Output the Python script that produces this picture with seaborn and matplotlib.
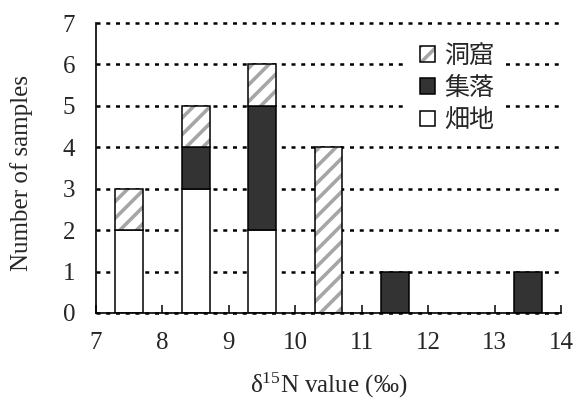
import numpy as np
import pandas as pd
import matplotlib
matplotlib.use("Agg")
import matplotlib.pyplot as plt
from matplotlib.patches import Patch, Rectangle
import seaborn as sns

# δ15N bin centres (‰) and number of samples per site type in each bin
bin_centers = [7.5, 8.5, 9.5, 10.5, 11.5, 13.5]
cave_counts = [1, 1, 1, 4, 0, 0]       # 洞窟
village_counts = [0, 1, 3, 0, 1, 1]    # 集落
field_counts = [2, 3, 2, 0, 0, 0]      # 畑地
site_names = ["洞窟", "集落", "畑地"]
x_ticks = [7, 8, 9, 10, 11, 12, 13, 14]
y_ticks = [0, 1, 2, 3, 4, 5, 6, 7]

sns.set_style("white")
plt.rcParams["font.family"] = ["Liberation Serif", "Noto Sans CJK JP"]
plt.rcParams["mathtext.fontset"] = "custom"
plt.rcParams["mathtext.rm"] = "Liberation Serif"
plt.rcParams["mathtext.it"] = "Liberation Serif"
plt.rcParams["mathtext.bf"] = "Liberation Serif"
plt.rcParams["hatch.linewidth"] = 2.6

rows = []
for name, counts in zip(site_names, [cave_counts, village_counts, field_counts]):
    for c, n in zip(bin_centers, counts):
        if n > 0:
            rows.append({"d15N": c, "count": n, "site": name})
df = pd.DataFrame(rows)

# temporary identity colours, restyled after drawing
id_palette = {"洞窟": "#aaaaaa", "集落": "#333333", "畑地": "#ffffff"}
hatch_gray = "#a6a6a6"
fill_dark = "#333333"

fig = plt.figure(figsize=(5.76, 4.05), dpi=100)
ax = fig.add_axes([0.1667, 0.2272, 0.8073, 0.7160])

sns.histplot(data=df, x="d15N", weights="count", hue="site", hue_order=site_names,
             multiple="stack", binwidth=1, binrange=(7, 14), shrink=0.42,
             palette=id_palette, edgecolor="black", linewidth=1.1, alpha=1,
             legend=False, ax=ax, zorder=3)

for cont in ax.containers:
    for p in cont.patches:
        fc = matplotlib.colors.to_hex(p.get_facecolor())
        if p.get_height() <= 0:
            p.set_visible(False)
            continue
        if fc == "#aaaaaa":
            p.set_facecolor("white")
            p.set_edgecolor(hatch_gray)
            p.set_hatch("//")
            p.set_linewidth(0)
            ax.add_patch(Rectangle((p.get_x(), p.get_y()), p.get_width(), p.get_height(),
                                   fill=False, edgecolor="black", linewidth=1.1, zorder=4))
        elif fc == "#333333":
            p.set_facecolor(fill_dark)
        else:
            p.set_facecolor("white")

ax.set_xlim(7, 14)
ax.set_ylim(0, 7)
ax.set_xticks(x_ticks)
ax.set_yticks(y_ticks)
ax.set_xticklabels([str(t) for t in x_ticks])
ax.set_yticklabels([str(t) for t in y_ticks])
ax.yaxis.grid(True, linestyle=(0, (1.6, 2.3)), color="black", linewidth=1.8)
ax.xaxis.grid(False)
ax.set_axisbelow(True)
for gl in ax.get_ygridlines():
    gl.set_clip_on(False)

for s in ["top", "right"]:
    ax.spines[s].set_visible(False)
for s in ["left", "bottom"]:
    ax.spines[s].set_color("black")
    ax.spines[s].set_linewidth(1.2)
    ax.spines[s].set_zorder(4)

ax.tick_params(axis="x", direction="in", length=6, width=1.1, color="black",
               labelsize=18, pad=14, bottom=True)
ax.tick_params(axis="y", length=0, labelsize=18, pad=15)

ax.set_xlabel(r"δ$^{15}$N value (‰)", fontsize=18, labelpad=12)
ax.set_ylabel("Number of samples", fontsize=18)
ax.yaxis.set_label_coords(-0.135, 0.483)

cave_handle = (
    Patch(facecolor="white", edgecolor=hatch_gray, hatch="//", linewidth=0),
    Patch(facecolor="none", edgecolor="black", linewidth=1.1),
)
handles = [
    cave_handle,
    Patch(facecolor=fill_dark, edgecolor="black", linewidth=1.1),
    Patch(facecolor="white", edgecolor="black", linewidth=1.1),
]
leg = ax.legend(handles, site_names, loc="upper left", bbox_to_anchor=(0.67, 0.975),
                prop={"family": "Noto Sans CJK JP", "size": 18},
                frameon=True, facecolor="white", edgecolor="none", framealpha=1,
                fancybox=False, handlelength=0.6, handleheight=0.6,
                handletextpad=0.35, labelspacing=0.25, borderpad=0.5, borderaxespad=0)
leg.set_zorder(5)

fig.savefig("out.png", dpi=100)
